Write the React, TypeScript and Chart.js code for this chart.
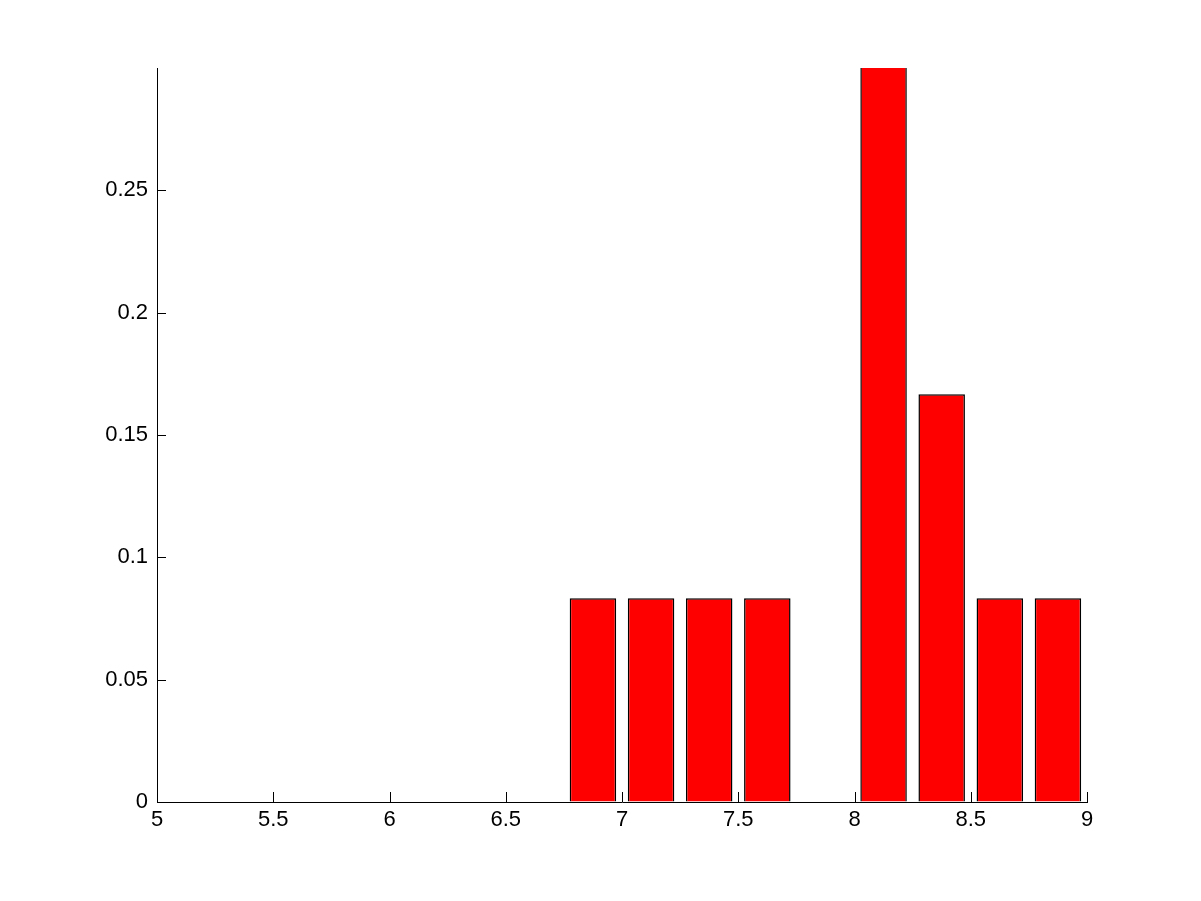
import React, { useEffect, useRef } from "react";
import { Chart, registerables } from "chart.js";

Chart.register(...registerables);

const binCenters = [6.875, 7.125, 7.375, 7.625, 8.125, 8.375, 8.625, 8.875];
const frequencies = [0.0833, 0.0833, 0.0833, 0.0833, 0.3333, 0.1667, 0.0833, 0.0833];
const xTicks = [5, 5.5, 6, 6.5, 7, 7.5, 8, 8.5, 9];
const yTicks = [0, 0.05, 0.1, 0.15, 0.2, 0.25];
const xRange = [5, 9];
const yRange = [0, 0.3];

const FONT = { family: "'Liberation Sans', Arial, sans-serif", size: 22 };

const inwardTicks = {
  id: "inwardTicks",
  afterDraw(chart: any) {
    const { ctx, chartArea, scales } = chart;
    ctx.save();
    ctx.strokeStyle = "#000";
    ctx.lineWidth = 1;
    ctx.beginPath();
    for (const v of xTicks) {
      const px = Math.round(scales.x.getPixelForValue(v)) + 0.5;
      ctx.moveTo(px, chartArea.bottom);
      ctx.lineTo(px, chartArea.bottom - 10);
    }
    for (const v of yTicks) {
      const py = Math.round(scales.y.getPixelForValue(v)) + 0.5;
      ctx.moveTo(chartArea.left, py);
      ctx.lineTo(chartArea.left + 9, py);
    }
    ctx.stroke();
    ctx.restore();
  },
};

export default function App() {
  const ref = useRef<HTMLCanvasElement>(null);
  useEffect(() => {
    if (!ref.current) return;
    const chart = new Chart(ref.current, {
      type: "bar",
      data: {
        datasets: [
          {
            data: binCenters.map((x, i) => ({ x, y: frequencies[i] })),
            backgroundColor: "#ff0000",
            borderColor: "#000000",
            borderWidth: 1.5,
            barPercentage: 0.8,
            categoryPercentage: 1,
            clip: 0,
          } as any,
        ],
      },
      options: {
        animation: false,
        responsive: false,
        devicePixelRatio: 1,
        layout: { padding: { left: 0, top: 68, right: 114, bottom: 0 } },
        plugins: { legend: { display: false }, tooltip: { enabled: false } },
        scales: {
          x: {
            type: "linear",
            min: xRange[0],
            max: xRange[1],
            offset: false,
            grid: { display: true, drawOnChartArea: false, drawTicks: false },
            border: { display: true, color: "#000", width: 1 },
            ticks: {
              stepSize: 0.5,
              color: "#000",
              font: FONT,
              padding: 5,
              maxRotation: 0,
              autoSkip: false,
              callback: (v: any) => String(Number(Number(v).toFixed(2))),
            },
            afterFit: (s: any) => {
              s.height = 99;
            },
          },
          y: {
            type: "linear",
            min: yRange[0],
            max: yRange[1],
            grid: { display: true, drawOnChartArea: false, drawTicks: false },
            border: { display: true, color: "#000", width: 1 },
            ticks: {
              stepSize: 0.05,
              color: "#000",
              font: FONT,
              padding: 9,
              callback: (v: any) => {
                const n = Number(Number(v).toFixed(2));
                return yTicks.includes(n) ? String(n) : "";
              },
            },
            afterFit: (s: any) => {
              s.width = 157;
            },
          },
        },
      },
      plugins: [inwardTicks],
    });
    return () => chart.destroy();
  }, []);
  return (
    <div style={{ position: "absolute", left: 0, top: 0, width: 1201, height: 901, background: "#fff" }}>
      <canvas ref={ref} width={1201} height={901} />
    </div>
  );
}
